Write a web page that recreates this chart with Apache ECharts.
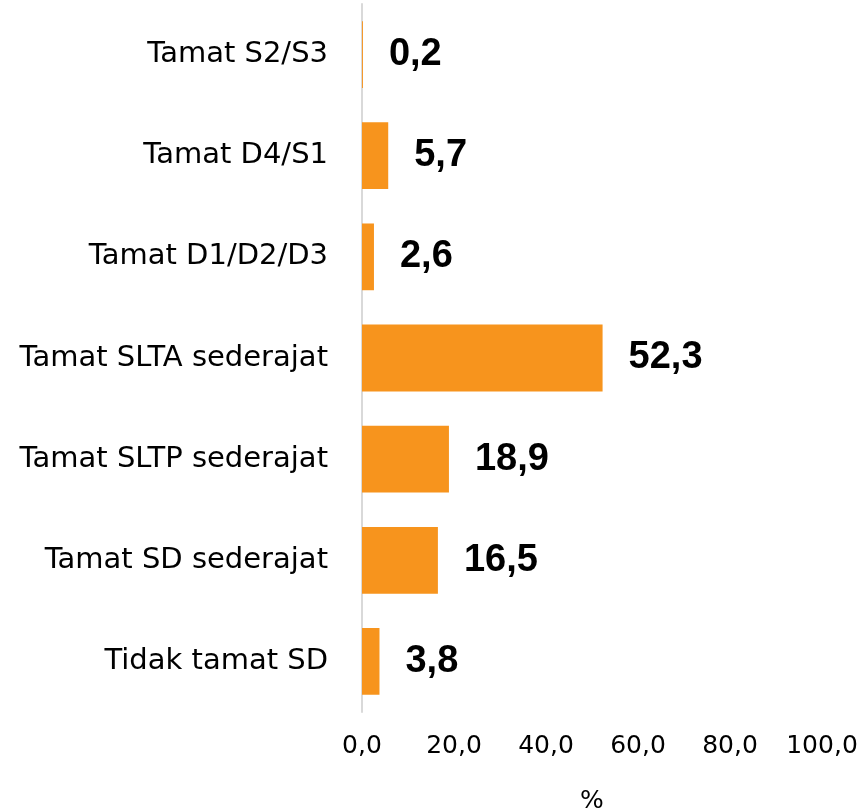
<!DOCTYPE html>
<html>
<head>
<meta charset="utf-8">
<script src="https://cdn.jsdelivr.net/npm/echarts@6/dist/echarts.min.js"></script>
<style>
  html, body { margin: 0; padding: 0; background: #fff; }
  #chart { width: 858px; height: 808px; }
</style>
</head>
<body>
<div id="chart"></div>
<script>
// kategori pendidikan (dari bawah ke atas)
var categories = [
    'Tidak tamat SD',
    'Tamat SD sederajat',
    'Tamat SLTP sederajat',
    'Tamat SLTA sederajat',
    'Tamat D1/D2/D3',
    'Tamat D4/S1',
    'Tamat S2/S3'
];
var values = [3.8, 16.5, 18.9, 52.3, 2.6, 5.7, 0.2];
var xTicks = [0, 20, 40, 60, 80, 100];

var fmt = function(v) {
    return Number(v).toFixed(1).replace('.', ',');
};

var myChart = echarts.init(document.getElementById('chart'));

var option = {
    animation: false,
    textStyle: { fontFamily: 'DejaVu Sans' },
    grid: {
        left: 362,
        right: 36,
        top: 4,
        bottom: 96,
        containLabel: false,
        outerBoundsMode: 'none'
    },
    xAxis: {
        type: 'value',
        min: xTicks[0],
        max: xTicks[xTicks.length - 1],
        interval: 20,
        name: '%',
        nameLocation: 'middle',
        nameGap: 77,
        nameTextStyle: { fontSize: 25, color: '#000', fontFamily: 'DejaVu Sans' },
        axisLine: { show: false },
        axisTick: { show: false },
        splitLine: { show: false },
        axisLabel: {
            margin: 22,
            fontSize: 25,
            color: '#000',
            fontFamily: 'DejaVu Sans',
            formatter: fmt
        }
    },
    yAxis: {
        type: 'category',
        data: categories,
        axisLine: { show: true, lineStyle: { color: '#d9d9d9', width: 2 } },
        axisTick: { show: false },
        axisLabel: {
            margin: 34,
            fontSize: 29,
            color: '#000',
            fontFamily: 'DejaVu Sans'
        }
    },
    series: [{
        type: 'bar',
        data: values,
        barWidth: '66%',
        itemStyle: { color: '#F7941D' },
        label: {
            show: true,
            position: 'right',
            distance: 26,
            fontSize: 38,
            fontWeight: 'bold',
            color: '#000',
            fontFamily: 'Liberation Sans',
            formatter: function(p) { return fmt(p.value); }
        }
    }]
};

myChart.setOption(option);
</script>
</body>
</html>
